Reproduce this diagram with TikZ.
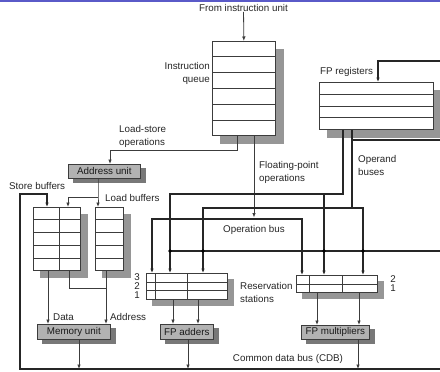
\documentclass[tikz,border=0pt]{standalone}
\usepackage{fontspec}
\setmainfont{Liberation Sans}
\usetikzlibrary{arrows.meta,calc,backgrounds}
\definecolor{unitgray}{RGB}{178,178,178}
\definecolor{unitshadow}{RGB}{120,120,120}
\definecolor{tabshadow}{RGB}{150,150,150}
\definecolor{linegray}{RGB}{60,60,60}
\definecolor{topblue}{RGB}{90,90,200}
\begin{document}
\begin{tikzpicture}[x=1pt,y=-1pt,
  lbl/.style={font=\fontsize{9.8}{13}\selectfont, inner sep=0pt, text=black!85},
  tab/.style={draw=linegray, line width=0.7pt, fill=white, inner sep=0pt, anchor=north west},
  tabline/.style={draw=linegray, line width=0.7pt},
  unit/.style={draw=linegray, line width=0.7pt, fill=unitgray, inner sep=0pt, anchor=north west,
     font=\fontsize{9.8}{11}\selectfont, text=black!90},
  thinl/.style={draw=linegray, line width=0.8pt},
  bus/.style={draw=black!85, line width=1.7pt},
  arr/.style={-{Latex[length=4.5pt,width=3.6pt]}},
  darr/.style={{Latex[length=4.5pt,width=3.6pt]}-{Latex[length=4.5pt,width=3.6pt]}},
  dot/.style={circle, fill=black, inner sep=0pt, minimum size=3.6pt}
]
\useasboundingbox (0,0) rectangle (440,372);

% ---------- nodes ----------
\node[lbl] (from) at (243.5,8) {From instruction unit};
\node[tab, minimum width=63pt, minimum height=94pt] (iq) at (212,41) {};
\node[lbl, align=right, anchor=east] (iqlbl) at (210,73.5) {Instruction\\queue};
\node[tab, minimum width=114pt, minimum height=47pt] (fpr) at (319,82) {};
\node[lbl, anchor=west] (fprlbl) at (320,72) {FP registers};
\node[unit, minimum width=72pt, minimum height=14pt] (au) at (68,164) {Address unit};
\node[tab, minimum width=47pt, minimum height=63pt] (sb) at (33,207) {};
\node[tab, minimum width=28pt, minimum height=63pt] (lb) at (95,207) {};
\node[unit, minimum width=73pt, minimum height=15pt] (mu) at (37,324) {Memory unit};
\node[tab, minimum width=81pt, minimum height=26pt] (rsa) at (146,273) {};
\node[unit, minimum width=53pt, minimum height=15pt] (fa) at (160,324) {FP adders};
\node[tab, minimum width=81pt, minimum height=17pt] (rsm) at (296,275) {};
\node[unit, minimum width=68pt, minimum height=14pt] (fm) at (301,325) {FP multipliers};

% shadows and background
\begin{scope}[on background layer]
\fill[white] (0,0) rectangle (440,372);
\draw[topblue, line width=1.3pt] (0,1) -- (440,1);
\foreach \n/\s in {iq/8, fpr/8, sb/7, lb/7, rsa/6, rsm/6}
  \fill[tabshadow] ($(\n.north west)+(\s,\s)$) rectangle ($(\n.south east)+(\s,\s)$);
\foreach \n in {au, mu, fa, fm}
  \fill[unitshadow] ($(\n.north west)+(5,4)$) rectangle ($(\n.south east)+(5,4)$);
\end{scope}

% labels
\node[lbl, align=left, anchor=west] (lsl) at (119,136.5) {Load-store\\operations};
\node[lbl, align=left, anchor=west] (fpol) at (259,172.5) {Floating-point\\operations};
\node[lbl, align=left, anchor=west] (opl) at (358,165.5) {Operand\\buses};
\node[lbl, anchor=west] (obl) at (223,230) {Operation bus};
\node[lbl, anchor=west] (sbl) at (9,186) {Store buffers};
\node[lbl, anchor=west] (lbl) at (105,198) {Load buffers};
\node[lbl, anchor=west] (datal) at (53,317) {Data};
\node[lbl, anchor=west] (addrl) at (110,317) {Address};
\node[lbl, align=left, anchor=west] (rsl) at (240,292) {Reservation\\stations};
\node[lbl] (cdbl) at (288,359) {Common data bus (CDB)};
\node[lbl] (n3) at (137,277) {3};
\node[lbl] (n2) at (137,286) {2};
\node[lbl] (n1) at (137,295) {1};
\node[lbl] (m2) at (393,279) {2};
\node[lbl] (m1) at (393,288) {1};

% ---------- table inner lines ----------
\foreach \k in {1,...,5}
  \draw[tabline] ($(iq.north west)!\k/6!(iq.south west)$) -- ($(iq.north east)!\k/6!(iq.south east)$);
\foreach \k in {1,2,3}
  \draw[tabline] ($(fpr.north west)!\k/4!(fpr.south west)$) -- ($(fpr.north east)!\k/4!(fpr.south east)$);
\foreach \k in {1,...,4}{
  \draw[tabline] ($(sb.north west)!\k/5!(sb.south west)$) -- ($(sb.north east)!\k/5!(sb.south east)$);
  \draw[tabline] ($(lb.north west)!\k/5!(lb.south west)$) -- ($(lb.north east)!\k/5!(lb.south east)$);
}
\draw[tabline] ($(sb.north west)!0.55!(sb.north east)$) -- ($(sb.south west)!0.55!(sb.south east)$);
\foreach \k in {1,2}
  \draw[tabline] ($(rsa.north west)!\k/3!(rsa.south west)$) -- ($(rsa.north east)!\k/3!(rsa.south east)$);
\draw[tabline] ($(rsa.north west)+(9,0)$) -- ($(rsa.south west)+(9,0)$);
\draw[tabline] ($(rsa.north west)+(41,0)$) -- ($(rsa.south west)+(41,0)$);
\draw[tabline] ($(rsm.north west)!0.5!(rsm.south west)$) -- ($(rsm.north east)!0.5!(rsm.south east)$);
\draw[tabline] ($(rsm.north west)+(13,0)$) -- ($(rsm.south west)+(13,0)$);
\draw[tabline] ($(rsm.north west)+(46,0)$) -- ($(rsm.south west)+(46,0)$);

% ---------- coordinates ----------
\coordinate (ls1) at (237,150);
\coordinate (ls2) at (110,150);
\coordinate (fpo) at (254,217.5);
\coordinate (obL) at (152,219);
\coordinate (obR) at (302,219);
\coordinate (b1a) at (343,194);
\coordinate (b1b) at (170,194);
\coordinate (b1c) at (324,194);
\coordinate (b2a) at (352,208);
\coordinate (b2l) at (203,208);
\coordinate (b2r) at (363,208);
\coordinate (cdbL) at (20,369);
\coordinate (cdbR) at (440,369);
\coordinate (cdbT) at (20,194);
\coordinate (sbin) at (47,194);
\coordinate (f1R) at (440,251);
\coordinate (f1L) at (170,251);
\coordinate (f2R) at (440,140);
\coordinate (f2L) at (352,140);
\coordinate (f3R) at (440,61);
\coordinate (f3L) at (378,61);
\coordinate (a1) at (98,197);
\coordinate (a2) at (68,197);
\coordinate (dx) at (48,300);
\coordinate (ad1) at (69,288);
\coordinate (ad2) at (106,288);
\coordinate (c1) at (79,369);
\coordinate (c2) at (188,369);
\coordinate (c3) at (358,369);
\coordinate (ra1) at (173,310);
\coordinate (ra2) at (198,310);
\coordinate (rm1) at (317,310);
\coordinate (rm2) at (359,310);

% ---------- thin connectors ----------
\draw[thinl, arr] (from) -- (iq.north);
\draw[thinl, arr] (iq.south -| ls1) -- (ls1) -- (ls2) -- (ls2 |- au.north);
\draw[thinl, arr] (iq.south -| fpo) -- (fpo);
\draw[thinl, arr] (au.south -| a1) -- (a1) -- (a1 |- lb.north);
\draw[thinl, arr] (a1) -- (a2) -- (a2 |- sb.north);
\draw[thinl, arr] (sb.south -| dx) -- (dx |- mu.north);
\draw[thinl] (sb.south -| ad1) -- (ad1) -- (ad2);
\draw[thinl, arr] (lb.south -| ad2) -- (ad2 |- mu.north);
\draw[thinl, arr] (mu.south -| c1) -- (c1);
\draw[thinl, arr] (rsa.south -| ra1) -- (ra1 |- fa.north);
\draw[thinl, arr] (rsa.south -| ra2) -- (ra2 |- fa.north);
\draw[thinl, arr] (fa.south -| c2) -- (c2);
\draw[thinl, arr] (rsm.south -| rm1) -- (rm1 |- fm.north);
\draw[thinl, arr] (rsm.south -| rm2) -- (rm2 |- fm.north);
\draw[thinl, arr] (fm.south -| c3) -- (c3);

% ---------- buses ----------
\draw[bus, darr] (rsa.north -| obL) -- (obL) -- (obR) -- (rsm.north -| obR);
\draw[bus, arr] (fpr.south -| b1a) -- (b1a) -- (b1b) -- (b1b |- rsa.north);
\draw[bus, arr] (b1c) -- (b1c |- rsm.north);
\draw[bus] (fpr.south -| b2a) -- (b2a);
\draw[bus, darr] (b2l |- rsa.north) -- (b2l) -- (b2r) -- (b2r |- rsm.north);
\draw[bus, arr, line join=miter] (cdbR) -- (cdbL) -- (cdbT) -- (sbin) -- (sbin |- sb.north);
\draw[bus] (f1R) -- (f1L);
\draw[bus] (f2R) -- (f2L);
\draw[bus, arr] (f3R) -- (f3L) -- (f3L |- fpr.north);
\foreach \p in {f1L, b2l |- f1L, b1c |- f1L, b2r |- f1L}
  \node[dot] at (\p) {};
\end{tikzpicture}
\end{document}
